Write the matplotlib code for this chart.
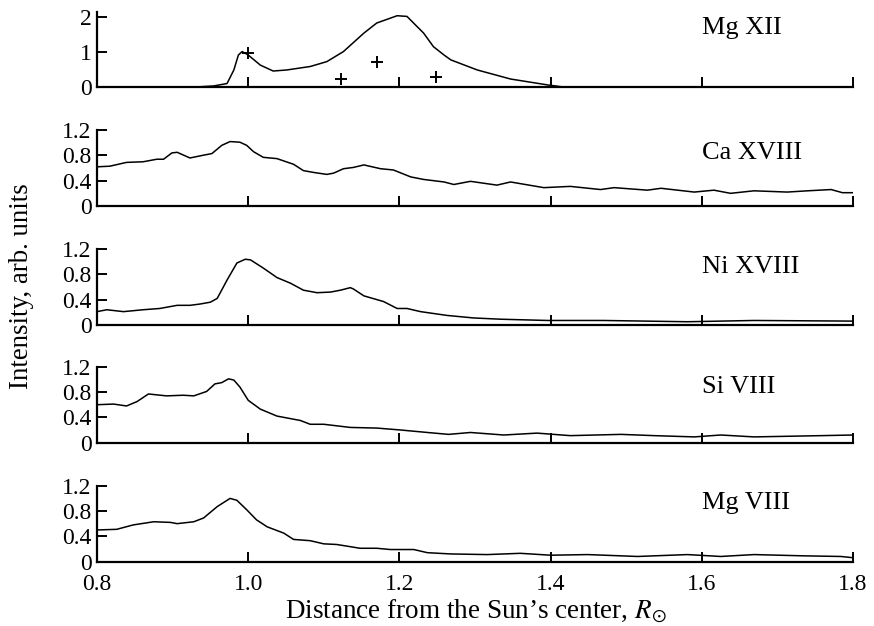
import numpy as np
import matplotlib
matplotlib.use('Agg')
import matplotlib.pyplot as plt

plt.rcParams['font.family'] = ['Liberation Serif', 'DejaVu Serif']
plt.rcParams['mathtext.fontset'] = 'stix'

# radial intensity profiles, distance in solar radii
mg12_x = [0.93, 0.954, 0.972, 0.981, 0.987, 0.992, 1.000, 1.016, 1.033, 1.051, 1.082, 1.104, 1.126,
          1.153, 1.170, 1.197, 1.210, 1.232, 1.245, 1.259, 1.268, 1.303, 1.347, 1.396, 1.417]
mg12_y = [0.0, 0.03, 0.10, 0.49, 0.92, 1.02, 0.92, 0.63, 0.46, 0.49, 0.59, 0.73, 1.02,
          1.55, 1.84, 2.05, 2.03, 1.55, 1.16, 0.92, 0.78, 0.49, 0.23, 0.06, 0.0]
mg12_pts_x = [1.000, 1.123, 1.170, 1.248]
mg12_pts_y = [0.97, 0.23, 0.73, 0.28]

ca18_x = [0.800, 0.817, 0.839, 0.861, 0.879, 0.888, 0.899, 0.906, 0.923, 0.939, 0.952, 0.965, 0.976,
          0.989, 0.998, 1.007, 1.020, 1.038, 1.060, 1.073, 1.087, 1.104, 1.113, 1.126, 1.139, 1.153,
          1.175, 1.192, 1.215, 1.232, 1.259, 1.272, 1.294, 1.329, 1.347, 1.391, 1.426, 1.466, 1.484,
          1.528, 1.546, 1.590, 1.616, 1.638, 1.669, 1.713, 1.740, 1.771, 1.786, 1.800]
ca18_y = [0.62, 0.63, 0.69, 0.70, 0.74, 0.74, 0.84, 0.85, 0.76, 0.80, 0.83, 0.96, 1.02,
          1.01, 0.96, 0.86, 0.77, 0.75, 0.66, 0.56, 0.53, 0.50, 0.52, 0.59, 0.61, 0.65,
          0.59, 0.57, 0.46, 0.42, 0.38, 0.34, 0.39, 0.33, 0.38, 0.29, 0.31, 0.26, 0.29,
          0.25, 0.28, 0.22, 0.25, 0.20, 0.24, 0.22, 0.24, 0.26, 0.21, 0.21]

ni18_x = [0.800, 0.813, 0.835, 0.861, 0.883, 0.906, 0.923, 0.936, 0.950, 0.959, 0.972, 0.985, 0.996,
          1.003, 1.020, 1.038, 1.056, 1.073, 1.091, 1.109, 1.122, 1.135, 1.139, 1.153, 1.179, 1.197,
          1.210, 1.228, 1.263, 1.298, 1.334, 1.396, 1.470, 1.581, 1.669, 1.800]
ni18_y = [0.21, 0.24, 0.21, 0.24, 0.26, 0.31, 0.31, 0.33, 0.36, 0.42, 0.71, 0.98, 1.04,
          1.03, 0.90, 0.75, 0.66, 0.55, 0.51, 0.52, 0.55, 0.59, 0.57, 0.46, 0.37, 0.26,
          0.26, 0.21, 0.15, 0.11, 0.09, 0.07, 0.07, 0.05, 0.07, 0.06]

si8_x = [0.800, 0.822, 0.839, 0.853, 0.868, 0.892, 0.914, 0.928, 0.945, 0.956, 0.965, 0.974, 0.981,
         0.989, 1.000, 1.016, 1.038, 1.069, 1.082, 1.100, 1.135, 1.170, 1.201, 1.237, 1.265, 1.294,
         1.338, 1.382, 1.426, 1.493, 1.537, 1.590, 1.625, 1.669, 1.758, 1.800]
si8_y = [0.60, 0.61, 0.58, 0.65, 0.77, 0.74, 0.75, 0.74, 0.81, 0.93, 0.95, 1.01, 0.99,
         0.88, 0.67, 0.53, 0.42, 0.35, 0.29, 0.29, 0.24, 0.23, 0.20, 0.16, 0.13, 0.16,
         0.12, 0.15, 0.11, 0.13, 0.11, 0.09, 0.12, 0.09, 0.11, 0.12]

mg8_x = [0.800, 0.826, 0.848, 0.875, 0.897, 0.906, 0.928, 0.941, 0.959, 0.976, 0.985, 0.998, 1.011,
         1.025, 1.047, 1.060, 1.082, 1.100, 1.117, 1.148, 1.170, 1.188, 1.219, 1.237, 1.268, 1.316,
         1.360, 1.400, 1.449, 1.515, 1.581, 1.625, 1.669, 1.735, 1.784, 1.800]
mg8_y = [0.50, 0.51, 0.58, 0.63, 0.62, 0.60, 0.63, 0.69, 0.87, 1.00, 0.97, 0.82, 0.66,
         0.55, 0.45, 0.35, 0.33, 0.28, 0.27, 0.21, 0.21, 0.19, 0.19, 0.14, 0.12, 0.11,
         0.13, 0.10, 0.11, 0.08, 0.11, 0.08, 0.11, 0.09, 0.08, 0.06]

ions = ['Mg XII', 'Ca XVIII', 'Ni XVIII', 'Si VIII', 'Mg VIII']
profiles = [(mg12_x, mg12_y), (ca18_x, ca18_y), (ni18_x, ni18_y), (si8_x, si8_y), (mg8_x, mg8_y)]
x_ticks = [0.8, 1.0, 1.2, 1.4, 1.6, 1.8]
y_ticks_top = [0, 1, 2]
y_ticks = [0, 0.4, 0.8, 1.2]
y_ticklabels = ['0', '0.4', '0.8', '1.2']

fig = plt.figure(figsize=(8.74, 6.26), dpi=100, facecolor='white')
left, width = 0.111, 0.865
bottoms = [0.861, 0.671, 0.481, 0.293, 0.103]
heights = [0.120, 0.121, 0.121, 0.121, 0.121]
label_y = [0.79, 0.70, 0.77, 0.73, 0.77]

for i, (name, (xs, ys)) in enumerate(zip(ions, profiles)):
    ax = fig.add_axes([left, bottoms[i], width, heights[i]])
    ax.plot(xs, ys, color='black', linewidth=1.1)
    if i == 0:
        ax.plot(mg12_pts_x, mg12_pts_y, linestyle='none', marker='+', markersize=9,
                markeredgewidth=1.4, color='black')
        ax.set_ylim(0, 2.16)
        ax.set_yticks(y_ticks_top)
        ax.set_yticklabels([str(v) for v in y_ticks_top])
    else:
        ax.set_ylim(0, 1.2)
        ax.set_yticks(y_ticks)
        ax.set_yticklabels(y_ticklabels)
    ax.set_xlim(0.8, 1.8)
    ax.set_xticks(x_ticks)
    if i == len(ions) - 1:
        ax.set_xticklabels(['%.1f' % v for v in x_ticks])
    else:
        ax.set_xticklabels([])
    ax.spines['top'].set_visible(False)
    ax.spines['right'].set_visible(False)
    ax.spines['left'].set_linewidth(1.6)
    ax.spines['bottom'].set_linewidth(1.6)
    ax.tick_params(axis='both', direction='in', length=7, width=1.4, labelsize=17)
    ax.tick_params(axis='x', pad=9)
    ax.tick_params(axis='y', pad=4)
    ax.text(1.6, label_y[i], name, transform=ax.get_xaxis_transform(),
            fontsize=19, ha='left', va='center')

fig.text(0.025, 0.543, 'Intensity, arb. units', rotation=90, ha='center', va='center', fontsize=19.4)
fig.text(0.545, 0.024, 'Distance from the Sun\u2019s center, $R_{\\odot}$',
         ha='center', va='center', fontsize=19.5)

plt.savefig('out.png', dpi=100, facecolor='white')
